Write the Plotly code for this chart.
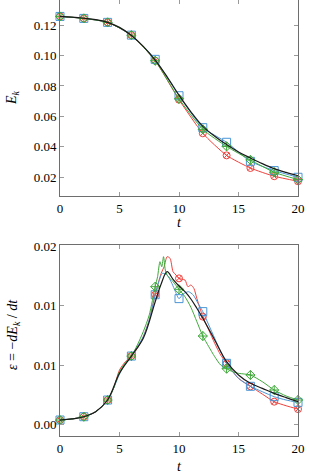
import plotly.graph_objects as go
from plotly.subplots import make_subplots

# ---------------- data ----------------
t_marks = [0, 2, 4, 6, 8, 10, 12, 14, 16, 18, 20]

# Top panel: kinetic energy E_k
ek_red = [0.1257, 0.1244, 0.1218, 0.1134, 0.0966, 0.0710, 0.0489, 0.0344, 0.0261, 0.0207, 0.0174]
ek_blue = [0.1257, 0.1244, 0.1218, 0.1134, 0.0975, 0.0736, 0.0526, 0.0430, 0.0305, 0.0244, 0.0200]
ek_green = [0.1257, 0.1244, 0.1218, 0.1134, 0.0966, 0.0716, 0.0515, 0.0403, 0.0314, 0.0233, 0.0185]
t_ref = [0, 1, 2, 3, 4, 5, 6, 7, 8, 9, 10, 11, 12, 13, 14, 15, 16, 17, 18, 19, 20]
ek_black = [0.1257, 0.1252, 0.1245, 0.1236, 0.1218, 0.1185, 0.1132, 0.1060, 0.0970, 0.0860,
            0.0740, 0.0630, 0.0535, 0.0470, 0.0415, 0.0366, 0.0327, 0.0290, 0.0257, 0.0232, 0.0210]

# Bottom panel: dissipation rate
t_eps_black = [0, 1, 2, 3, 4, 5, 6, 7, 8, 8.5, 9, 9.5, 10, 10.5, 11, 11.5, 12, 13, 14, 15, 16, 17, 18, 19, 20]
eps_black = [0.00039, 0.00048, 0.00067, 0.00109, 0.00207, 0.00431, 0.00576, 0.00725, 0.01032, 0.01181,
             0.01284, 0.01220, 0.01164, 0.01116, 0.01055, 0.00977, 0.00893, 0.00711, 0.00529, 0.00417,
             0.00347, 0.00305, 0.00263, 0.00227, 0.00193]

t_eps_red = [0, 1, 2, 3, 4, 4.5, 5, 5.5, 6, 6.5, 7, 7.5, 8, 8.5, 8.75, 9, 9.25, 9.5, 9.75, 10,
             10.5, 10.75, 11, 11.25, 11.5, 12, 12.5, 13, 13.5, 14, 15, 16, 17, 18, 19, 20]
eps_red = [0.00039, 0.00048, 0.00067, 0.00109, 0.00207, 0.00305, 0.00459, 0.00529, 0.00576, 0.00641,
           0.00739, 0.00879, 0.01091, 0.01270, 0.01326, 0.01410, 0.01396, 0.01284, 0.01256, 0.01228,
           0.01214, 0.01158, 0.01172, 0.01144, 0.01060, 0.00907, 0.00795, 0.00683, 0.00585, 0.00515,
           0.00389, 0.00322, 0.00257, 0.00193, 0.00159, 0.00131]

t_eps_blue = [0, 1, 2, 3, 4, 4.5, 5, 5.5, 6, 6.5, 7, 7.5, 8, 8.3, 8.6, 9, 9.4, 9.7, 10, 10.35,
              10.8, 11.2, 11.6, 12, 12.5, 13, 13.5, 14, 15, 16, 17, 18, 19, 20]
eps_blue = [0.00039, 0.00048, 0.00067, 0.00109, 0.00207, 0.00305, 0.00425, 0.00515, 0.00576, 0.00655,
            0.00739, 0.00879, 0.01091, 0.01200, 0.01270, 0.01256, 0.01186, 0.01116, 0.01058, 0.01097,
            0.01116, 0.01088, 0.01018, 0.00949, 0.00837, 0.00725, 0.00613, 0.00515, 0.00389, 0.00322,
            0.00277, 0.00235, 0.00207, 0.00187]

t_eps_green = [0, 1, 2, 3, 4, 4.5, 5, 5.5, 6, 6.5, 7, 7.5, 8, 8.2, 8.4, 8.55, 8.7, 8.85, 9, 9.5,
               10, 10.5, 11, 11.5, 12, 12.5, 13, 13.5, 14, 14.5, 15, 15.5, 16, 17, 18, 19, 20]
eps_green = [0.00039, 0.00048, 0.00067, 0.00109, 0.00207, 0.00305, 0.00445, 0.00520, 0.00576, 0.00669,
             0.00781, 0.00921, 0.01158, 0.01242, 0.01368, 0.01326, 0.01410, 0.01298, 0.01256, 0.01200,
             0.01136, 0.01074, 0.00985, 0.00865, 0.00744, 0.00655, 0.00571, 0.00501, 0.00470, 0.00445,
             0.00431, 0.00425, 0.00417, 0.00361, 0.00291, 0.00241, 0.00207]

x_ticks = [0, 5, 10, 15, 20]
ek_ticks = [0.02, 0.04, 0.06, 0.08, 0.10, 0.12]
eps_ticks = [0, 0.005, 0.01, 0.015]
eps_ticktext = ["0.00", "0.01", "0.01", "0.02"]

# ---------------- styles ----------------
RED = "#f0413c"
BLUE = "#4a95d6"
GREEN = "#3fa83a"
BLACK = "#1a1a1a"
FONT = "Liberation Serif, Times New Roman, DejaVu Serif, serif"

fig = make_subplots(rows=2, cols=1, vertical_spacing=0.05)

def marks(ts, vals):
    return [v for t, v in zip(ts, vals) if t in t_marks], [t for t in ts if t in t_marks]

# top panel
for vals, col, sym in [(ek_red, RED, "circle-x-open"), (ek_blue, BLUE, "square-open"),
                       (ek_green, GREEN, "diamond-cross-open")]:
    fig.add_trace(go.Scatter(x=t_marks, y=vals, mode="lines+markers", line=dict(color=col, width=1, shape="spline", smoothing=0.6),
                             marker=dict(symbol=sym, size=8 if sym == "square-open" else 7, color=col, line=dict(width=1, color=col)),
                             showlegend=False, cliponaxis=False), row=1, col=1)
fig.add_trace(go.Scatter(x=t_ref, y=ek_black, mode="lines", line=dict(color=BLACK, width=1.2, shape="spline"),
                         showlegend=False), row=1, col=1)

# bottom panel
for ts, vals, col, sym in [(t_eps_red, eps_red, RED, "circle-x-open"), (t_eps_blue, eps_blue, BLUE, "square-open"),
                           (t_eps_green, eps_green, GREEN, "diamond-cross-open")]:
    fig.add_trace(go.Scatter(x=ts, y=vals, mode="lines", line=dict(color=col, width=1, shape="spline", smoothing=0.7),
                             showlegend=False), row=2, col=1)
    my, mx = marks(ts, vals)
    fig.add_trace(go.Scatter(x=mx, y=my, mode="markers",
                             marker=dict(symbol=sym, size=8 if sym == "square-open" else 7, color=col, line=dict(width=1, color=col)),
                             showlegend=False, cliponaxis=False), row=2, col=1)
fig.add_trace(go.Scatter(x=t_eps_black, y=eps_black, mode="lines", line=dict(color=BLACK, width=1.2, shape="spline"),
                         showlegend=False), row=2, col=1)

axis_common = dict(showline=True, linecolor="#6e6e6e", linewidth=1, mirror="ticks", ticks="inside",
                   ticklen=4, tickcolor="#9a9a9a", showgrid=False, zeroline=False, automargin=False,
                   tickfont=dict(family=FONT, size=13, color="black"))

fig.update_xaxes(range=[0, 20], tickvals=x_ticks, ticklabeloverflow="allow", **axis_common)
fig.update_yaxes(**axis_common)
fig.update_xaxes(domain=[0, 1], row=1, col=1)
fig.update_xaxes(domain=[0, 1], row=2, col=1)
fig.update_yaxes(range=[0.0077, 0.1365], tickvals=ek_ticks, tickformat=".2f", domain=[1 - 196 / 475, 1], row=1, col=1)
fig.update_yaxes(range=[-0.00095, 0.01508], tickvals=eps_ticks, ticktext=eps_ticktext,
                 domain=[1 - 436 / 475, 1 - 245 / 475], row=2, col=1)

ann_font = dict(family=FONT, size=14, color="black")
fig.add_annotation(text="<i>t</i>", xref="paper", yref="paper", x=0.5, y=1 - 222 / 475,
                   showarrow=False, font=ann_font, xanchor="center", yanchor="middle")
fig.add_annotation(text="<i>t</i>", xref="paper", yref="paper", x=0.5, y=1 - 466 / 475,
                   showarrow=False, font=ann_font, xanchor="center", yanchor="middle")
fig.add_annotation(text="<i>E<sub>k</sub></i>", xref="paper", yref="paper", x=-48 / 238, y=1 - 98 / 475,
                   showarrow=False, font=ann_font, textangle=-90, xanchor="center", yanchor="middle")
fig.add_annotation(text="<i>ε</i> = −<i>dE<sub>k</sub></i> / <i>dt</i>", xref="paper", yref="paper",
                   x=-47 / 238, y=1 - 335 / 475,
                   showarrow=False, font=ann_font, textangle=-90, xanchor="center", yanchor="middle")

fig.update_layout(width=309, height=475, margin=dict(l=60, r=11, t=0, b=0, autoexpand=False),
                  plot_bgcolor="white", paper_bgcolor="white")

fig.write_html("out.html", config={"displayModeBar": False},
               post_script="document.body.style.margin='0';document.body.style.overflow='hidden';")
